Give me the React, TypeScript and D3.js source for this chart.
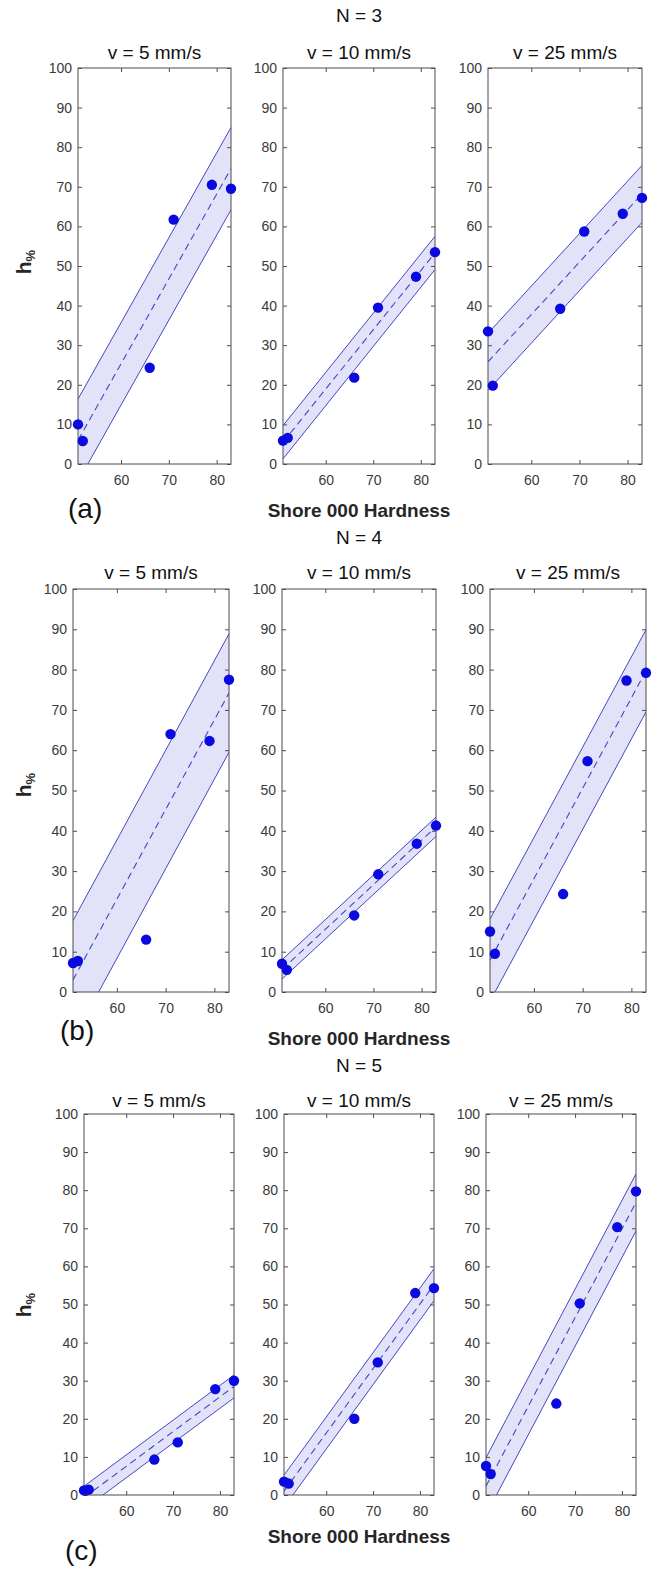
import React, { useEffect, useRef } from "react";
import * as d3 from "d3";

// Shore 000 hardness of the samples (same for every panel)
const hardness = [51, 52, 66, 71, 79, 83];
const speedTitles = ["v = 5 mm/s", "v = 10 mm/s", "v = 25 mm/s"];
const cycleTitles = ["N = 3", "N = 4", "N = 5"];
const panelTags = ["(a)", "(b)", "(c)"];
const yTicks = [0, 10, 20, 30, 40, 50, 60, 70, 80, 90, 100];
const xTicks = [60, 70, 80];

// h% per speed (5, 10, 25 mm/s), one row per N
const hN3 = [
  [10, 5.8, 24.3, 61.7, 70.5, 69.5],
  [5.9, 6.6, 21.8, 39.5, 47.3, 53.5],
  [33.5, 19.8, 39.2, 58.7, 63.2, 67.2],
];
const hN4 = [
  [7.2, 7.7, 13, 64, 62.3, 77.5],
  [7, 5.5, 19, 29.2, 36.8, 41.3],
  [15, 9.5, 24.3, 57.3, 77.3, 79.2],
];
const hN5 = [
  [1.2, 1.4, 9.3, 13.8, 27.8, 30],
  [3.5, 3, 20, 34.8, 53, 54.3],
  [7.6, 5.5, 24, 50.3, 70.3, 79.7],
];

// fitted line at hardness 51 and 83, then half width of the band
const fitN3 = [
  [6.0, 74.6, 10.4],
  [5.5, 53.3, 4.2],
  [25.8, 68.2, 7.2],
];
const fitN4 = [
  [3.0, 74.2, 14.7],
  [5.6, 41.0, 2.4],
  [7.9, 79.7, 10.2],
];
const fitN5 = [
  [-0.7, 28.5, 3.0],
  [1.0, 55.2, 4.2],
  [2.3, 76.8, 7.5],
];

const allH = [hN3, hN4, hN5];
const allFit = [fitN3, fitN4, fitN5];

const rows = [
  { top: 68, bottom: 464, panels: [[78, 231], [283, 435], [488, 642]], nY: 15, titleY: 52, xlabY: 510, tagX: 68, tagY: 508, ylabY: 262 },
  { top: 589, bottom: 992, panels: [[73, 229], [282, 436], [490, 646]], nY: 537, titleY: 572, xlabY: 1038, tagX: 60, tagY: 1030, ylabY: 785 },
  { top: 1114, bottom: 1495, panels: [[84, 234], [284, 434], [486, 636]], nY: 1065, titleY: 1100, xlabY: 1536, tagX: 65, tagY: 1550, ylabY: 1305 },
];

const FONT = "'Liberation Sans', Arial, Helvetica, sans-serif";
const BLUE = "#0a0ae0";
const EDGE = "#4646c4";
const FILL = "#e2e2f9";

export default function App() {
  const ref = useRef<SVGSVGElement>(null);

  useEffect(() => {
    const svg = d3.select(ref.current);
    svg.selectAll("*").remove();
    svg.style("font-family", FONT);

    rows.forEach((row, r) => {
      const midX = (row.panels[1][0] + row.panels[1][1]) / 2;

      svg.append("text")
        .attr("x", midX).attr("y", row.nY)
        .attr("text-anchor", "middle").attr("dominant-baseline", "central")
        .attr("font-size", 19).attr("fill", "#111")
        .text(cycleTitles[r]);

      svg.append("text")
        .attr("x", midX).attr("y", row.xlabY)
        .attr("text-anchor", "middle").attr("dominant-baseline", "central")
        .attr("font-size", 19).attr("font-weight", "bold").attr("fill", "#262626")
        .text("Shore 000 Hardness");

      svg.append("text")
        .attr("x", row.tagX).attr("y", row.tagY)
        .attr("dominant-baseline", "central")
        .attr("font-size", 28).attr("fill", "#111")
        .text(panelTags[r]);

      const yl = svg.append("text")
        .attr("transform", `translate(31,${row.ylabY}) rotate(-90)`)
        .attr("text-anchor", "middle")
        .attr("font-weight", "bold").attr("fill", "#262626");
      yl.append("tspan").attr("font-size", 21).text("h");
      yl.append("tspan").attr("font-size", 13).attr("dy", 4).text("%");

      row.panels.forEach(([x0, x1], p) => {
        const x = d3.scaleLinear().domain([51, 83]).range([x0, x1]);
        const y = d3.scaleLinear().domain([0, 100]).range([row.bottom, row.top]);
        const g = svg.append("g");
        const clipId = `clip-${r}-${p}`;
        g.append("clipPath").attr("id", clipId)
          .append("rect")
          .attr("x", x0).attr("y", row.top)
          .attr("width", x1 - x0).attr("height", row.bottom - row.top);

        const [f0, f1, half] = allFit[r][p];
        const fitPts = [
          { h: 51, c: f0 },
          { h: 83, c: f1 },
        ];

        const band = g.append("g").attr("clip-path", `url(#${clipId})`);
        band.append("path")
          .attr("fill", FILL)
          .attr("d", d3.area<{ h: number; c: number }>()
            .x(d => x(d.h))
            .y0(d => y(d.c - half))
            .y1(d => y(d.c + half))(fitPts));

        [half, -half].forEach(off => {
          band.append("path")
            .attr("fill", "none").attr("stroke", EDGE).attr("stroke-width", 1)
            .attr("d", d3.line<{ h: number; c: number }>()
              .x(d => x(d.h)).y(d => y(d.c + off))(fitPts));
        });
        band.append("path")
          .attr("fill", "none").attr("stroke", EDGE).attr("stroke-width", 1.1)
          .attr("stroke-dasharray", "7,4.5")
          .attr("d", d3.line<{ h: number; c: number }>()
            .x(d => x(d.h)).y(d => y(d.c))(fitPts));

        // axes box + inward ticks on all sides
        const axStyle = (sel: d3.Selection<SVGGElement, unknown, null, undefined>) => {
          sel.select(".domain").remove();
          sel.selectAll(".tick line").attr("stroke", "#4d4d4d");
          sel.selectAll(".tick text").attr("fill", "#3a3a3a").attr("font-size", 14).attr("font-family", FONT);
        };
        g.append("g").attr("transform", `translate(0,${row.bottom})`)
          .call(d3.axisBottom(x).tickValues(xTicks).tickSize(-4).tickPadding(11).tickFormat(d3.format("d")))
          .call(axStyle);
        g.append("g").attr("transform", `translate(0,${row.top})`)
          .call(d3.axisTop(x).tickValues(xTicks).tickSize(-4).tickFormat(() => ""))
          .call(axStyle);
        g.append("g").attr("transform", `translate(${x0},0)`)
          .call(d3.axisLeft(y).tickValues(yTicks).tickSize(-4).tickPadding(6).tickFormat(d3.format("d")))
          .call(axStyle);
        g.append("g").attr("transform", `translate(${x1},0)`)
          .call(d3.axisRight(y).tickValues(yTicks).tickSize(-4).tickFormat(() => ""))
          .call(axStyle);
        g.append("rect")
          .attr("x", x0).attr("y", row.top)
          .attr("width", x1 - x0).attr("height", row.bottom - row.top)
          .attr("fill", "none").attr("stroke", "#4d4d4d").attr("stroke-width", 1);

        g.append("g").selectAll("circle")
          .data(hardness.map((h, i) => ({ h, v: allH[r][p][i] })))
          .join("circle")
          .attr("cx", d => x(d.h)).attr("cy", d => y(d.v))
          .attr("r", 5.2).attr("fill", BLUE);

        svg.append("text")
          .attr("x", (x0 + x1) / 2).attr("y", row.titleY)
          .attr("text-anchor", "middle").attr("dominant-baseline", "central")
          .attr("font-size", 19).attr("fill", "#111")
          .text(speedTitles[p]);
      });
    });
  }, []);

  return (
    <svg
      ref={ref}
      width={660}
      height={1571}
      style={{ position: "absolute", left: 0, top: 0, background: "#fff" }}
    />
  );
}
